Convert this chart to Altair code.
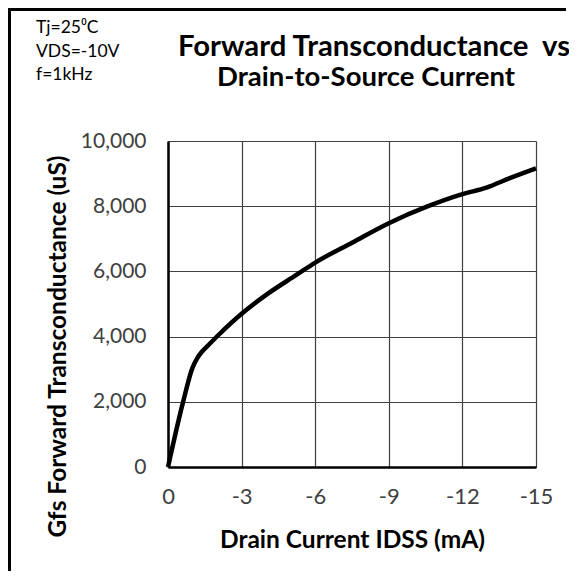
import altair as alt
import pandas as pd

# Data
idss_ma = [0, -0.6, -1.0, -1.2, -1.4, -1.7, -2.1, -3.0, -4.0, -5.23, -6.0, -7.5, -9.0, -10.6, -12.0, -12.98, -13.93, -15.0]
gfs_us = [0, 1950, 3050, 3350, 3550, 3780, 4080, 4700, 5280, 5890, 6270, 6880, 7480, 8000, 8370, 8570, 8860, 9160]

x_ticks = [0, -3, -6, -9, -12, -15]
y_ticks = [0, 2000, 4000, 6000, 8000, 10000]

title_lines = ["Forward Transconductance\u00a0\u00a0vs", "Drain-to-Source Current"]
notes = ["Tj=25\u2070C", "VDS=-10V", "f=1kHz"]

df = pd.DataFrame({"idss": idss_ma, "gfs": gfs_us})

FONT = "Lato"
W, H = 368, 326

x_enc = alt.X(
    "idss:Q",
    scale=alt.Scale(domain=[-15, 0], reverse=True, nice=False),
    axis=alt.Axis(
        values=x_ticks,
        labelExpr="'' + datum.value",
        labelFlush=False,
        title="Drain Current IDSS (mA)",
        titleFont=FONT, titleFontSize=24.5, titleFontWeight="bold", titleColor="black",
        titleY=73, titleBaseline="middle",
        labelFont=FONT, labelFontSize=22, labelColor="#404040", labelPadding=19,
        ticks=False, domainColor="black", domainWidth=2.5,
        grid=True, gridColor="#404040", gridWidth=1.2,
    ),
)
y_enc = alt.Y(
    "gfs:Q",
    scale=alt.Scale(domain=[0, 10000], nice=False),
    axis=alt.Axis(
        values=y_ticks,
        format=",d",
        labelFlush=False,
        title="Gfs Forward Transconductance (uS)",
        titleFont=FONT, titleFontSize=24.5, titleFontWeight="bold", titleColor="black",
        titleX=-110, titleY=205, titleAngle=270, titleAlign="center", titleBaseline="middle",
        labelFont=FONT, labelFontSize=21, labelColor="#404040", labelPadding=22,
        ticks=False, domainColor="black", domainWidth=2.5,
        grid=True, gridColor="#404040", gridWidth=1.2,
    ),
)

line = alt.Chart(df).mark_line(
    color="black", strokeWidth=4.5, interpolate="monotone"
).encode(x=x_enc, y=y_enc)

tdf = pd.DataFrame({"t": title_lines, "yy": [-94, -63], "xx": [206, 198], "fs": [29.3, 27.5]})
titles = alt.Chart(tdf).mark_text(
    font=FONT, fontWeight="bold", color="black", align="center", baseline="middle"
).encode(
    x=alt.X("xx:Q", scale=None), y=alt.Y("yy:Q", scale=None),
    size=alt.Size("fs:Q", scale=None), text="t:N",
)

ndf = pd.DataFrame({"t": notes, "yy": [-113, -89, -66]})
note_text = alt.Chart(ndf).mark_text(
    font=FONT, fontSize=17.5, color="black", align="left", baseline="middle"
).encode(x=alt.value(-132), y=alt.Y("yy:Q", scale=None), text="t:N")

border_left = alt.Chart(pd.DataFrame({"a": [0]})).mark_rule(color="black", strokeWidth=3).encode(
    x=alt.value(-158.5), y=alt.value(-132), y2=alt.value(H + 104)
)
border_top = alt.Chart(pd.DataFrame({"a": [0]})).mark_rule(color="black", strokeWidth=3).encode(
    x=alt.value(-160), x2=alt.value(W + 30), y=alt.value(-131.5)
)

chart = alt.layer(line, titles, note_text, border_left, border_top).properties(
    width=W, height=H,
    autosize=alt.AutoSizeParams(type="none"),
    padding={"left": 160, "top": 133, "right": 33, "bottom": 104},
    background="white",
).configure_view(stroke=None)

chart.save("out.html", embed_options={"renderer": "svg", "actions": False})
